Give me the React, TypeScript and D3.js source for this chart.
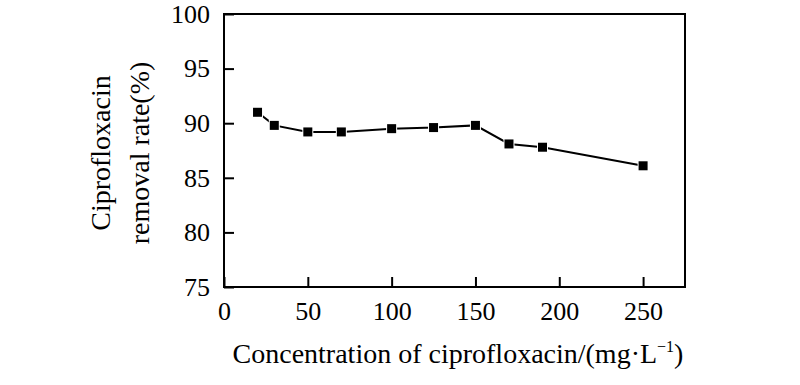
import React, { useEffect, useRef } from 'react';
import * as d3 from 'd3';

// concentration (mg/L) vs removal rate (%)
const concentrations = [20, 30, 50, 70, 100, 125, 150, 170, 190, 250];
const removalRates = [91.0, 89.8, 89.2, 89.2, 89.5, 89.6, 89.8, 88.1, 87.8, 86.1];
const xTicks = [0, 50, 100, 150, 200, 250];
const yTicks = [75, 80, 85, 90, 95, 100];

const FONT = '"Liberation Serif", "Times New Roman", serif';

const App = () => {
    const svgRef = useRef<SVGSVGElement>(null);

    useEffect(() => {
        if (!svgRef.current) return;
        const svg = d3.select(svgRef.current);
        svg.selectAll('*').remove();

        const width = 800;
        const height = 385;
        const margin = { top: 14, right: 115, bottom: 98, left: 224 };
        const innerWidth = width - margin.left - margin.right;
        const innerHeight = height - margin.top - margin.bottom;

        svg.attr('width', width).attr('height', height);

        const g = svg.append('g')
            .attr('transform', `translate(${margin.left},${margin.top})`);

        const x = d3.scaleLinear().domain([0, 275]).range([0, innerWidth]);
        const y = d3.scaleLinear().domain([75, 100]).range([innerHeight, 0]);

        // frame
        g.append('rect')
            .attr('width', innerWidth)
            .attr('height', innerHeight)
            .attr('fill', 'none')
            .attr('stroke', '#000')
            .attr('stroke-width', 2);

        // x axis, ticks pointing inward
        const xAxis = g.append('g')
            .attr('transform', `translate(0,${innerHeight})`)
            .call(d3.axisBottom(x).tickValues(xTicks).tickSize(-10).tickPadding(15));
        xAxis.select('.domain').remove();
        xAxis.selectAll('.tick line').attr('stroke', '#000').attr('stroke-width', 2);
        xAxis.selectAll('.tick text')
            .attr('fill', '#000')
            .style('font-family', FONT)
            .style('font-size', '26px');

        // y axis
        const yAxis = g.append('g')
            .call(d3.axisLeft(y).tickValues(yTicks).tickSize(-10).tickPadding(14));
        yAxis.select('.domain').remove();
        yAxis.selectAll('.tick line').attr('stroke', '#000').attr('stroke-width', 2);
        yAxis.selectAll('.tick text')
            .attr('fill', '#000')
            .style('font-family', FONT)
            .style('font-size', '26px');

        const data = concentrations.map((c, i) => ({ c, r: removalRates[i] }));

        const line = d3.line<{ c: number; r: number }>()
            .x(d => x(d.c))
            .y(d => y(d.r));

        g.append('path')
            .datum(data)
            .attr('fill', 'none')
            .attr('stroke', '#000')
            .attr('stroke-width', 2)
            .attr('d', line);

        const s = 9;
        g.selectAll('.marker')
            .data(data)
            .join('rect')
            .attr('class', 'marker')
            .attr('x', d => x(d.c) - s / 2)
            .attr('y', d => y(d.r) - s / 2)
            .attr('width', s)
            .attr('height', s)
            .attr('fill', '#000')
            .attr('stroke', '#fff')
            .attr('stroke-width', 2)
            .attr('paint-order', 'stroke');

        // x title
        const xt = svg.append('text')
            .attr('x', 458)
            .attr('y', 363)
            .attr('text-anchor', 'middle')
            .style('font-family', FONT)
            .style('font-size', '28px')
            .attr('fill', '#000');
        xt.append('tspan').text('Concentration of ciprofloxacin/(mg·L');
        xt.append('tspan').attr('dy', -11).style('font-size', '16px').text('−1');
        xt.append('tspan').attr('dy', 11).text(')');

        // y title, two lines
        const yt = svg.append('text')
            .attr('transform', `translate(110,153) rotate(-90)`)
            .attr('text-anchor', 'middle')
            .style('font-family', FONT)
            .style('font-size', '28px')
            .attr('fill', '#000');
        yt.append('tspan').attr('x', 0).attr('y', 0).text('Ciprofloxacin');
        yt.append('tspan').attr('x', 0).attr('y', 39).text('removal rate(%)');
    }, []);

    return (
        <svg ref={svgRef} style={{ position: 'absolute', left: 0, top: 0, background: '#fff' }}></svg>
    );
};

export default App;
